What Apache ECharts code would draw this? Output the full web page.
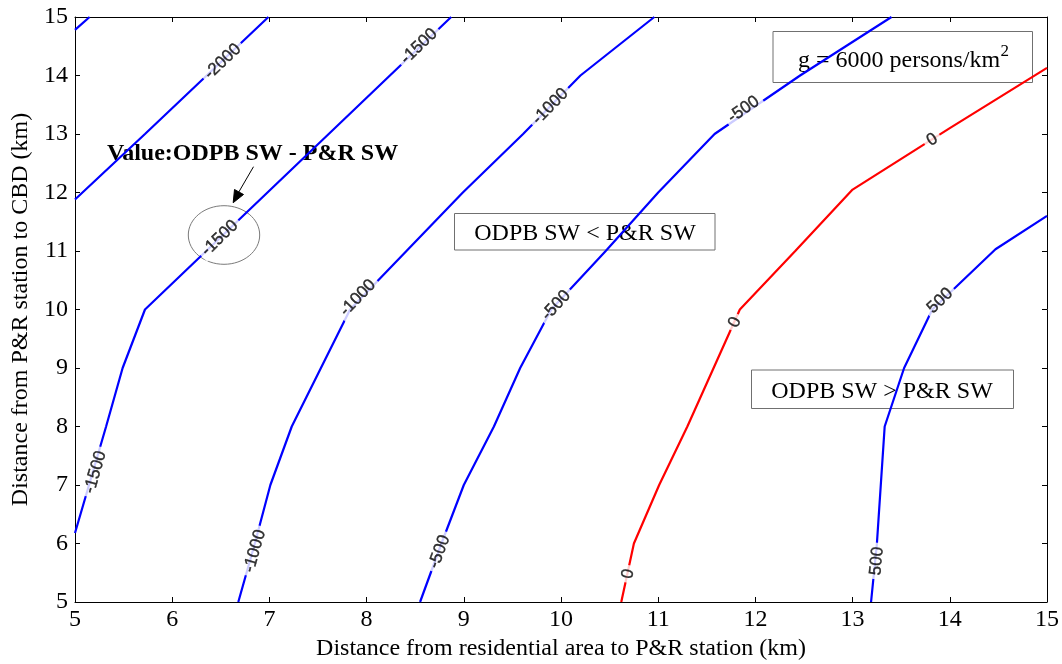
<!DOCTYPE html>
<html>
<head>
<meta charset="utf-8">
<script src="https://cdn.jsdelivr.net/npm/echarts@6/dist/echarts.min.js"></script>
<style>
  html, body { margin: 0; padding: 0; background: #fff; }
  #main { width: 1062px; height: 664px; }
</style>
</head>
<body>
<div id="main"></div>
<script>
// contour lines of ODPB SW - P&R SW, points are [residential->P&R km, P&R->CBD km]
const lineM2500 = [[5, 14.78], [5.15, 15]];
const lineM2000 = [[5, 11.88], [5.72, 13], [6.99, 15]];
const lineM1500 = [[5, 6.18], [5.32, 8], [5.49, 9], [5.72, 10], [8.87, 15]];
const lineM1000 = [[6.68, 5], [6.85, 6], [7.01, 7], [7.23, 8], [7.53, 9], [7.83, 10], [8.41, 11], [8.99, 12], [9.61, 13], [10.2, 14], [10.96, 15]];
const lineM500 = [[8.55, 5], [8.77, 6], [9, 7], [9.31, 8], [9.58, 9], [9.9, 10], [10.46, 11], [11, 12], [11.58, 13], [12.46, 14], [13.4, 15]];
const line0 = [[10.62, 5], [10.75, 6], [11.01, 7], [11.3, 8], [11.57, 9], [11.84, 10], [12.41, 11], [13, 12.05], [14, 13.1], [15, 14.13]];
const line500 = [[13.19, 5], [13.25, 6], [13.29, 7], [13.33, 8], [13.53, 9], [13.82, 10], [14.47, 11.03], [15, 11.6]];

// where the level labels sit on each line
const labM2000 = [[6.52, 14.24]];
const labM1500 = [[5.21, 7.22], [6.49, 11.22], [8.54, 14.5]];
const labM1000 = [[6.85, 5.87], [7.91, 10.2], [9.89, 13.47]];
const labM500 = [[8.75, 5.86], [9.95, 10.07], [11.88, 13.42]];
const lab0 = [[10.69, 5.48], [11.79, 9.78], [13.82, 12.9]];
const lab500 = [[13.25, 5.7], [13.9, 10.15]];

const xTicks = { min: 5, max: 15, step: 1 };
const yTicks = { min: 5, max: 15, step: 1 };

const contours = [
  { level: -2500, pts: lineM2500, labs: [], color: '#0000ff' },
  { level: -2000, pts: lineM2000, labs: labM2000, color: '#0000ff' },
  { level: -1500, pts: lineM1500, labs: labM1500, color: '#0000ff' },
  { level: -1000, pts: lineM1000, labs: labM1000, color: '#0000ff' },
  { level: -500, pts: lineM500, labs: labM500, color: '#0000ff' },
  { level: 0, pts: line0, labs: lab0, color: '#ff0000' },
  { level: 500, pts: line500, labs: lab500, color: '#0000ff' }
];

const serif = '"Liberation Serif", "Times New Roman", serif';
const sans = '"Liberation Sans", Arial, sans-serif';

let chart = echarts.init(document.getElementById('main'));

function axisBase(pos, showLabel) {
  return {
    type: 'value',
    position: pos,
    axisLine: { show: true, onZero: false, lineStyle: { color: '#000', width: 1 } },
    axisTick: { show: true, inside: true, length: 5, lineStyle: { color: '#000', width: 1 } },
    axisLabel: { show: showLabel, color: '#000', fontFamily: serif, fontSize: 24 },
    splitLine: { show: false }
  };
}

let xBottom = Object.assign(axisBase('bottom', true), {
  min: xTicks.min, max: xTicks.max, interval: xTicks.step,
  name: 'Distance from residential area to P&R station (km)',
  nameLocation: 'middle', nameGap: 33,
  nameTextStyle: { color: '#000', fontFamily: serif, fontSize: 24 }
});
xBottom.axisLabel.margin = 6;
let xTop = Object.assign(axisBase('top', false), { min: xTicks.min, max: xTicks.max, interval: xTicks.step });

let yLeft = Object.assign(axisBase('left', true), {
  min: yTicks.min, max: yTicks.max, interval: yTicks.step,
  name: 'Distance from P&R station to CBD (km)',
  nameLocation: 'middle', nameGap: 40,
  nameTextStyle: { color: '#000', fontFamily: serif, fontSize: 24 }
});
yLeft.axisLabel.margin = 7;
let yRight = Object.assign(axisBase('right', false), { min: yTicks.min, max: yTicks.max, interval: yTicks.step });

let lineSeries = contours.map(c => ({
  type: 'line',
  data: c.pts,
  showSymbol: false,
  silent: true,
  z: 3,
  lineStyle: { color: c.color, width: 2.2 }
}));

function labelData(withAngle) {
  let out = [];
  contours.forEach(c => {
    c.labs.forEach(p => {
      let item = { value: [p[0], p[1], c.level] };
      if (withAngle) item.label = { rotate: angleAt(c.pts, p) };
      out.push(item);
    });
  });
  return out;
}

// direction of the nearest segment, in screen space
function angleAt(pts, p) {
  let q = chart.convertToPixel({ gridIndex: 0 }, p);
  let best = 0, bd = Infinity;
  for (let i = 0; i < pts.length - 1; i++) {
    let a = chart.convertToPixel({ gridIndex: 0 }, pts[i]);
    let b = chart.convertToPixel({ gridIndex: 0 }, pts[i + 1]);
    let dx = b[0] - a[0], dy = b[1] - a[1];
    let t = ((q[0] - a[0]) * dx + (q[1] - a[1]) * dy) / (dx * dx + dy * dy);
    t = Math.max(0, Math.min(1, t));
    let ex = a[0] + t * dx - q[0], ey = a[1] + t * dy - q[1];
    let d = ex * ex + ey * ey;
    if (d < bd) {
      bd = d;
      if (dx < 0) { dx = -dx; dy = -dy; }
      best = Math.atan2(-dy, dx) * 180 / Math.PI;
    }
  }
  return best;
}

let labelSeries = {
  id: 'levels',
  type: 'scatter',
  silent: true,
  z: 5,
  symbol: 'circle',
  symbolSize: 0.1,
  itemStyle: { color: 'rgba(0,0,0,0)' },
  labelLayout: { hideOverlap: false },
  label: {
    show: true,
    position: 'inside',
    formatter: p => String(p.value[2]),
    color: '#000',
    textBorderColor: '#000',
    textBorderWidth: 0.4,
    fontFamily: sans,
    fontSize: 17,
    backgroundColor: '#fff',
    padding: [0, 4]
  },
  data: labelData(false)
};

const tSerif = (size, bold) => (bold ? 'bold ' : '') + size + 'px ' + serif;

let option = {
  animation: false,
  backgroundColor: '#fff',
  grid: { left: 75, right: 15, top: 17, bottom: 62, containLabel: false, outerBoundsMode: 'none' },
  xAxis: [xBottom, xTop],
  yAxis: [yLeft, yRight],
  series: lineSeries.concat([labelSeries]),
  graphic: [
    { type: 'text', z: 1, x: 107, y: 154,
      style: { text: 'Value:ODPB SW - P&R SW', font: tSerif(24, true), fill: '#000',
               textAlign: 'left', textVerticalAlign: 'middle', align: 'left', verticalAlign: 'middle' } },
    { type: 'line', z: 1, shape: { x1: 253.5, y1: 166.7, x2: 238.5, y2: 192.5 },
      style: { stroke: '#000', lineWidth: 1 } },
    { type: 'polygon', z: 1, shape: { points: [[233.2, 202.7], [234.5, 189.5], [243.5, 194.5]] },
      style: { fill: '#000', stroke: '#000', lineWidth: 1 } },
    { type: 'ellipse', z: 1, shape: { cx: 224, cy: 235, rx: 35.7, ry: 29.3 },
      style: { fill: 'none', stroke: '#7a7a7a', lineWidth: 1 } },

    { type: 'rect', z: 1, shape: { x: 454.5, y: 213.5, width: 260.5, height: 36.5 },
      style: { fill: 'none', stroke: '#707070', lineWidth: 1 } },
    { type: 'text', z: 1, x: 585, y: 234,
      style: { text: 'ODPB SW < P&R SW', font: tSerif(24), fill: '#000',
               textAlign: 'center', textVerticalAlign: 'middle', align: 'center', verticalAlign: 'middle' } },

    { type: 'rect', z: 1, shape: { x: 773, y: 31.5, width: 259.5, height: 51 },
      style: { fill: 'none', stroke: '#707070', lineWidth: 1 } },
    { type: 'text', z: 1, x: 798, y: 61,
      style: { text: 'g = 6000 persons/km', font: tSerif(24), fill: '#000',
               textAlign: 'left', textVerticalAlign: 'middle', align: 'left', verticalAlign: 'middle' } },
    { type: 'text', z: 1, x: 1000.5, y: 52,
      style: { text: '2', font: tSerif(17), fill: '#000',
               textAlign: 'left', textVerticalAlign: 'middle', align: 'left', verticalAlign: 'middle' } },

    { type: 'rect', z: 1, shape: { x: 751.5, y: 370, width: 262, height: 38.5 },
      style: { fill: 'none', stroke: '#707070', lineWidth: 1 } },
    { type: 'text', z: 1, x: 882, y: 392,
      style: { text: 'ODPB SW > P&R SW', font: tSerif(24), fill: '#000',
               textAlign: 'center', textVerticalAlign: 'middle', align: 'center', verticalAlign: 'middle' } }
  ]
};

chart.setOption(option);
// labels follow the line direction once the axes are laid out
chart.setOption({ series: [{ id: 'levels', data: labelData(true) }] });
</script>
</body>
</html>
